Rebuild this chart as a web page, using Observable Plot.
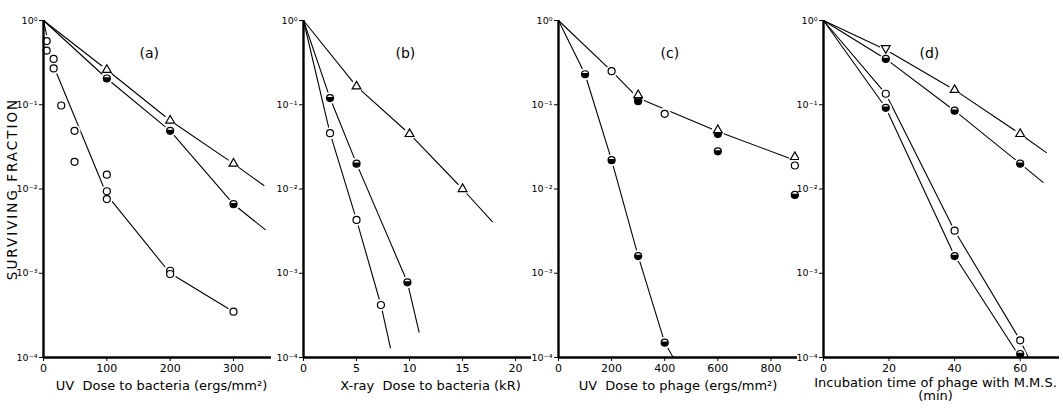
<!DOCTYPE html>
<html><head><meta charset="utf-8">
<script src="https://cdn.jsdelivr.net/npm/d3@7"></script>
<script src="https://cdn.jsdelivr.net/npm/@observablehq/plot@0.6"></script>
<style>
body{margin:0;background:#fff}
#c{position:relative;width:1063px;height:408px;overflow:hidden;background:#fff}
#c svg{position:absolute;top:0}
</style>
</head><body><div id="c"></div>
<script>
// ---------- data ----------
const yTicks = [1, 0.1, 0.01, 0.001, 0.0001];
const yTitle = "SURVIVING FRACTION";

// (a) UV dose to bacteria
const aTicks = [0, 100, 200, 300];
const aTri  = [[100,0.26],[200,0.065],[300,0.020]];
const aHalf = [[100,0.205],[200,0.049],[300,0.0066]];
const aOpen = [[5,0.57],[5,0.44],[16,0.35],[16,0.27],[28,0.098],[49,0.049],[49,0.021],[100,0.0148],[100,0.0094],[100,0.0076],[200,0.00107],[200,0.00098],[300,0.00035]];
const aLineTri  = [[0,1],[100,0.26],[200,0.065],[300,0.020],[348,0.011]];
const aLineHalf = [[0,1],[100,0.205],[200,0.049],[300,0.0066],[350,0.0033]];
const aLineOpen = [[0,1],[15,0.3],[100,0.0085],[200,0.001],[300,0.00035]];

// (b) X-ray dose to bacteria
const bTicks = [0, 5, 10, 15, 20];
const bTri  = [[5,0.165],[10,0.045],[15,0.010]];
const bHalf = [[2.5,0.12],[5,0.020],[9.8,0.00078]];
const bOpen = [[2.5,0.046],[5,0.0043],[7.3,0.00042]];
const bLineTri  = [[0,1],[5,0.165],[10,0.045],[15,0.010],[17.8,0.0041]];
const bLineHalf = [[0,1],[2.5,0.12],[5,0.020],[9.8,0.00078],[10.9,0.0002]];
const bLineOpen = [[0,1],[2.5,0.046],[5,0.0043],[7.3,0.00042],[8.2,0.00013]];

// (c) UV dose to phage
const cTicks = [0, 200, 400, 600, 800];
const cTri  = [[300,0.13],[600,0.050],[890,0.024]];
const cHalf = [[100,0.23],[200,0.022],[300,0.0016],[400,0.00015],[300,0.115],[300,0.11],[600,0.045],[600,0.028],[890,0.0085]];
const cOpen = [[200,0.25],[400,0.078],[890,0.019]];
const cLineSteep = [[0,1],[100,0.23],[200,0.022],[300,0.0016],[400,0.00015],[432,0.0001]];
const cLineUpper = [[0,1],[200,0.25],[300,0.12],[600,0.048],[890,0.022]];

// (d) incubation time of phage with M.M.S.
const dTicks = [0, 20, 40, 60];
const dInv  = [[19,0.47]];
const dTri  = [[40,0.15],[60,0.045]];
const dHalf = [[19,0.35],[40,0.085],[60,0.020],[19,0.092],[40,0.0016],[60,0.00011]];
const dOpen = [[19,0.135],[40,0.0032],[60,0.00016]];
const dLineTri   = [[0,1],[19,0.45],[40,0.15],[60,0.045],[68,0.027]];
const dLineHalf  = [[0,1],[19,0.35],[40,0.085],[60,0.020],[67,0.012]];
const dLineOpen  = [[0,1],[19,0.135],[40,0.0032],[60,0.00016],[62.5,0.0001]];
const dLineFill  = [[0,1],[19,0.092],[40,0.0016],[60,0.0001]];

// ---------- drawing ----------
const FONT = "'DejaVu Sans', 'Liberation Sans', sans-serif";
const sup = {"-":"\u207b","0":"\u2070","1":"\u00b9","2":"\u00b2","3":"\u00b3","4":"\u2074"};
const fmtY = d => "10" + String(Math.round(Math.log10(d))).split("").map(ch => sup[ch]).join("");

const halfSym = {draw(ctx, size){
  const r = Math.sqrt(size/Math.PI), a = 0.35;
  ctx.moveTo(r*Math.cos(-a), r*Math.sin(-a));
  ctx.arc(0,0,r,-a,Math.PI+a);
  ctx.closePath();
}};

const toObj = (arr, s) => arr.map(([x,y]) => ({x, y, s}));

function panel(cfg){
  const lines = cfg.lines.flatMap((l,i) => toObj(l, i));
  const tri = toObj(cfg.tri||[]), half = toObj(cfg.half||[]), open = toObj(cfg.open||[]), inv = toObj(cfg.inv||[]);
  const all = [...tri, ...half, ...open, ...inv];
  const R = 3.5;
  const marks = [
    Plot.line(lines, {x:"x", y:"y", z:"s", stroke:"black", strokeWidth:1.1}),
    Plot.dot(all, {x:"x", y:"y", r:6, fill:"white", stroke:"none"}),
    Plot.dot(open, {x:"x", y:"y", r:R, fill:"white", stroke:"black", strokeWidth:1.2}),
    Plot.dot(half, {x:"x", y:"y", r:R, fill:"white", stroke:"black", strokeWidth:1.2}),
    Plot.dot(half, {x:"x", y:"y", r:R, symbol:halfSym, fill:"black", stroke:"none"}),
    Plot.dot(tri, {x:"x", y:"y", r:4.2, symbol:"triangle2", fill:"white", stroke:"black", strokeWidth:1.2}),
    Plot.dot(inv, {x:"x", y:"y", r:4.2, symbol:"triangle2", rotate:180, fill:"white", stroke:"black", strokeWidth:1.2}),
    Plot.ruleX([0], {stroke:"black", strokeWidth:2.4}),
    Plot.ruleY([1e-4], {stroke:"black", strokeWidth:2.4}),
    Plot.axisY({ticks: yTicks, tickFormat: fmtY, tickSize: 4, tickPadding: 2, fontSize: 9.5, label: null, tickStrokeWidth: 1.5}),
    Plot.axisX({ticks: cfg.ticks, tickSize: 4, tickPadding: 3, fontSize: 11, label: null}),
    Plot.text([cfg.tag], {frameAnchor:"top-left", dx: cfg.tagDx, dy: 28, fontSize: 14}),
    ...cfg.xlabels.map(([t, dx, dy]) => Plot.text([t], {frameAnchor:"bottom", dx, dy, fontSize: 13}))
  ];
  if (cfg.ytitle) marks.push(Plot.text([yTitle], {frameAnchor:"left", textAnchor:"middle", dx:-31, rotate:-90, fontSize: 13.5}));
  const p = Plot.plot({
    width: cfg.width, height: 408,
    marginLeft: cfg.ml, marginRight: cfg.mr, marginTop: 20, marginBottom: 51,
    style: {background:"transparent", fontFamily: FONT, color:"black"},
    x: {domain: cfg.xdomain},
    y: {type:"log", domain:[1e-4, 1]},
    marks
  });
  p.style.left = cfg.left + "px";
  d3.select(p).selectAll("text").filter(function(){ return this.textContent === yTitle; })
    .style("letter-spacing", "2px");
  document.getElementById("c").appendChild(p);
}

panel({left:0, width:275, ml:43, mr:4, xdomain:[0,360], ticks:aTicks,
  lines:[aLineTri, aLineHalf, aLineOpen], tri:aTri, half:aHalf, open:aOpen,
  tag:"(a)", tagDx:96, xlabels:[["UV  Dose to bacteria (ergs/mm\u00b2)", 4, 32]], ytitle:true});
panel({left:265, width:268, ml:38, mr:2, xdomain:[0,21.5], ticks:bTicks,
  lines:[bLineTri, bLineHalf, bLineOpen], tri:bTri, half:bHalf, open:bOpen,
  tag:"(b)", tagDx:92, xlabels:[["X-ray  Dose to bacteria (kR)", 13, 32]]});
panel({left:520, width:279, ml:38, mr:2, xdomain:[0,900], ticks:cTicks,
  lines:[cLineSteep, cLineUpper], tri:cTri, half:cHalf, open:cOpen,
  tag:"(c)", tagDx:102, xlabels:[["UV  Dose to phage (ergs/mm\u00b2)", 0, 32]]});
panel({left:785, width:278, ml:38, mr:4, xdomain:[0,72], ticks:dTicks,
  lines:[dLineTri, dLineHalf, dLineOpen, dLineFill], tri:dTri, half:dHalf, open:dOpen, inv:dInv,
  tag:"(d)", tagDx:96, xlabels:[["Incubation time of phage with M.M.S.", -6, 29], ["(min)", -6, 42]]});
</script></body></html>
